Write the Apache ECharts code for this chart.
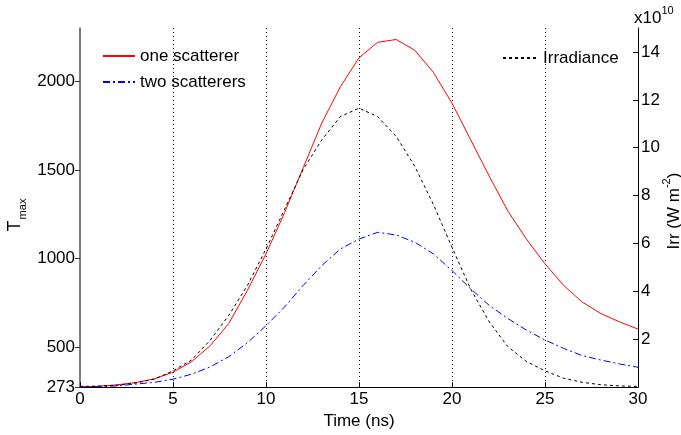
<!DOCTYPE html>
<html>
<head>
<meta charset="utf-8">
<script src="https://cdn.jsdelivr.net/npm/echarts@6/dist/echarts.min.js"></script>
<style>
html,body{margin:0;padding:0;background:#fff;}
#chart{width:681px;height:435px;}
</style>
</head>
<body>
<div id="chart"></div>
<script>
// Time (ns)
var times = [0,1,2,3,4,5,6,7,8,9,10,11,12,13,14,15,16,17,18,19,20,21,22,23,24,25,26,27,28,29,30];
// T_max, one scatterer (K)
var oneScatterer = [273,278,286,299,320,357,417,507,633,820,1026,1260,1513,1766,1971,2135,2222,2238,2177,2052,1878,1672,1466,1269,1110,970,848,754,689,642,601];
// T_max, two scatterers (K)
var twoScatterers = [273,275,280,290,300,318,346,387,445,524,620,726,848,960,1054,1110,1148,1133,1092,1026,932,829,735,661,595,539,492,451,426,404,385];
// Irradiance (x10^10 W m^-2)
var irradiance = [0.03,0.04,0.08,0.17,0.33,0.68,1.13,1.96,3.0,4.24,5.77,7.43,9.09,10.33,11.3,11.65,11.3,10.47,9.22,7.63,5.84,4.1,2.73,1.69,1.07,0.68,0.37,0.2,0.1,0.05,0.03];
// tick labels
var xTicks = [0,5,10,15,20,25,30];
var leftTicks = [273,500,1000,1500,2000];
var rightTicks = [2,4,6,8,10,12,14];

function pairs(v){ return times.map(function(t,i){ return [t, v[i]]; }); }
function plain(v){ return String(v); }

var FONT = '"Liberation Sans", Arial, sans-serif';
var chart = echarts.init(document.getElementById('chart'), null, {renderer:'canvas'});
chart.setOption({
  animation:false,
  backgroundColor:'#fff',
  textStyle:{fontFamily:FONT},
  grid:{left:80, right:43, top:28, bottom:46, containLabel:false},
  legend:[
    {data:['one scatterer','two scatterers'], orient:'vertical', left:102, top:47,
     itemWidth:32, itemHeight:10, itemGap:8, padding:0,
     itemStyle:{opacity:0, borderWidth:0},
     textStyle:{fontSize:17, color:'#000', fontFamily:FONT, lineHeight:18}},
    {data:['Irradiance'], orient:'vertical', left:502, top:49,
     itemWidth:35, itemHeight:10, padding:0,
     itemStyle:{opacity:0, borderWidth:0},
     textStyle:{fontSize:17, color:'#000', fontFamily:FONT, lineHeight:18}}
  ],
  xAxis:{
    type:'value', min:0, max:30, interval:5,
    name:'Time (ns)', nameLocation:'middle', nameGap:24,
    nameTextStyle:{fontSize:17, color:'#000', fontFamily:FONT},
    axisLine:{show:true, onZero:false, lineStyle:{color:'#000', width:1}},
    axisTick:{show:true, inside:true, length:5, lineStyle:{color:'#000'}},
    axisLabel:{fontSize:17, color:'#000', margin:4, fontFamily:FONT, formatter:plain},
    splitLine:{show:true, showMinLine:false, showMaxLine:false, lineStyle:{color:'#000', type:[1,3], width:1}}
  },
  yAxis:[
    {type:'value', min:273, max:2303, position:'left',
     axisLine:{show:true, lineStyle:{color:'#555', width:1.5}},
     axisTick:{show:true, inside:false, length:5, customValues:leftTicks, lineStyle:{color:'#333'}},
     axisLabel:{fontSize:17, color:'#000', margin:5, customValues:leftTicks, fontFamily:FONT, formatter:plain},
     splitLine:{show:false}},
    {type:'value', min:0, max:15, position:'right',
     axisLine:{show:true, lineStyle:{color:'#000', width:1}},
     axisTick:{show:true, inside:true, length:5, customValues:rightTicks, lineStyle:{color:'#000'}},
     axisLabel:{fontSize:17, color:'#000', margin:3, customValues:rightTicks, fontFamily:FONT, formatter:plain},
     splitLine:{show:false}}
  ],
  series:[
    {name:'one scatterer', type:'line', yAxisIndex:0, data:pairs(oneScatterer),
     symbol:'none', showSymbol:false, lineStyle:{color:'#ff0000', width:1}, itemStyle:{color:'#ff0000'}},
    {name:'two scatterers', type:'line', yAxisIndex:0, data:pairs(twoScatterers),
     symbol:'none', showSymbol:false, lineStyle:{color:'#0000ff', width:1, type:[7,3,2,3]}, itemStyle:{color:'#0000ff'}},
    {name:'Irradiance', type:'line', yAxisIndex:1, data:pairs(irradiance),
     symbol:'none', showSymbol:false, lineStyle:{color:'#000', width:1, type:[3,3]}, itemStyle:{color:'#000'}}
  ],
  graphic:[
    {type:'text', x:17, y:215, rotation:Math.PI/2,
     style:{text:'{a|T}{b|max}', align:'center', verticalAlign:'middle', fill:'#000',
       rich:{a:{fontSize:18, fontFamily:FONT, lineHeight:22, verticalAlign:'top'},
             b:{fontSize:11, fontFamily:FONT, lineHeight:22, verticalAlign:'bottom', padding:[0,0,0,1]}}}},
    {type:'text', x:672, y:211, rotation:Math.PI/2,
     style:{text:'{a|Irr (W m}{b|-2}{a|)}', align:'center', verticalAlign:'middle', fill:'#000',
       rich:{a:{fontSize:17, fontFamily:FONT, lineHeight:22, verticalAlign:'bottom'},
             b:{fontSize:11, fontFamily:FONT, lineHeight:22, verticalAlign:'top'}}}},
    {type:'text', x:634, y:5,
     style:{text:'{a|x10}{b|10}', fill:'#000',
       rich:{a:{fontSize:17, fontFamily:FONT, lineHeight:22, verticalAlign:'bottom'},
             b:{fontSize:11, fontFamily:FONT, lineHeight:22, verticalAlign:'top'}}}}
  ]
});
</script>
</body>
</html>
